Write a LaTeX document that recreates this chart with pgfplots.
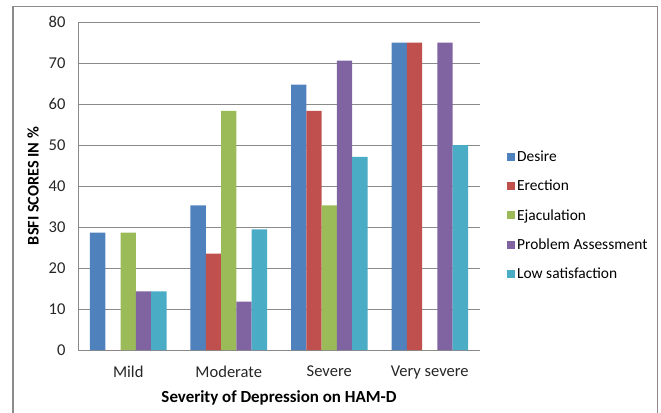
\documentclass[border=0pt]{standalone}
\usepackage{pgfplots}
\pgfplotsset{compat=1.18}
\usepackage{fontspec}
\setmainfont{Carlito}
\definecolor{cDes}{HTML}{4F81BD}
\definecolor{cEre}{HTML}{C0504D}
\definecolor{cEja}{HTML}{9BBB59}
\definecolor{cPro}{HTML}{8064A2}
\definecolor{cLow}{HTML}{4BACC6}
\definecolor{frameg}{HTML}{8C8C8C}
\definecolor{gridg}{HTML}{8A8A8A}
\begin{document}
\begin{tikzpicture}
\useasboundingbox (0,0) rectangle (661bp,-413bp);
\draw[color=frameg, line width=1.3bp] (13bp,-420bp) -- (13bp,-6.5bp) -- (657.5bp,-6.5bp) -- (657.5bp,-420bp);
\begin{axis}[
  at={(78bp,-350bp)}, anchor=south west,
  scale only axis, width=402bp, height=328bp,
  ymin=0, ymax=80, ytick={0,10,...,80},
  xmin=-0.5, xmax=3.5, xtick={0,1,2,3},
  xticklabels={Mild,Moderate,Severe,Very severe},
  ybar=0pt, bar width=15.3bp,
  axis lines*=left, axis line style={-, color=gridg, line width=1bp},
  major tick length=0pt,
  ymajorgrids, grid style={color=gridg, line width=0.9bp},
  /pgf/number format/assume math mode=true,
  tick label style={font=\fontsize{16.6}{18}\selectfont, color=black!85},
  yticklabel style={xshift=-9bp},
  xticklabel style={yshift=-12bp},
  ylabel={\textbf{BSFI SCORES IN \%}},
  xlabel={\textbf{Severity of Depression on HAM-D}},
  every axis y label/.style={at={(axis description cs:-0.112,0.5)}, rotate=90, anchor=center, font=\fontsize{16.3}{18}\selectfont, color=black},
  every axis x label/.style={at={(axis description cs:0.5,-0.146)}, anchor=center, font=\fontsize{17}{18}\selectfont, color=black},
  clip=false,
  legend style={at={(1.067,0.41)}, anchor=west, draw=none, fill=none,
    font=\fontsize{15.5}{17}\selectfont, row sep=13bp, inner sep=0pt},
  legend cell align=left,
  legend image code/.code={\draw[#1, draw=none] (0bp,-4bp) rectangle (8bp,4bp);},
]
\addplot[fill=cDes, draw=none] coordinates {(0,28.6) (1,35.3) (2,64.7) (3,75)};
\addplot[fill=cEre, draw=none] coordinates {(0,0) (1,23.5) (2,58.3) (3,75)};
\addplot[fill=cEja, draw=none] coordinates {(0,28.6) (1,58.3) (2,35.3) (3,0)};
\addplot[fill=cPro, draw=none] coordinates {(0,14.3) (1,11.8) (2,70.6) (3,75)};
\addplot[fill=cLow, draw=none] coordinates {(0,14.3) (1,29.4) (2,47.1) (3,50)};
\legend{Desire,Erection,Ejaculation,Problem Assessment,Low satisfaction}
\end{axis}
\end{tikzpicture}
\end{document}
